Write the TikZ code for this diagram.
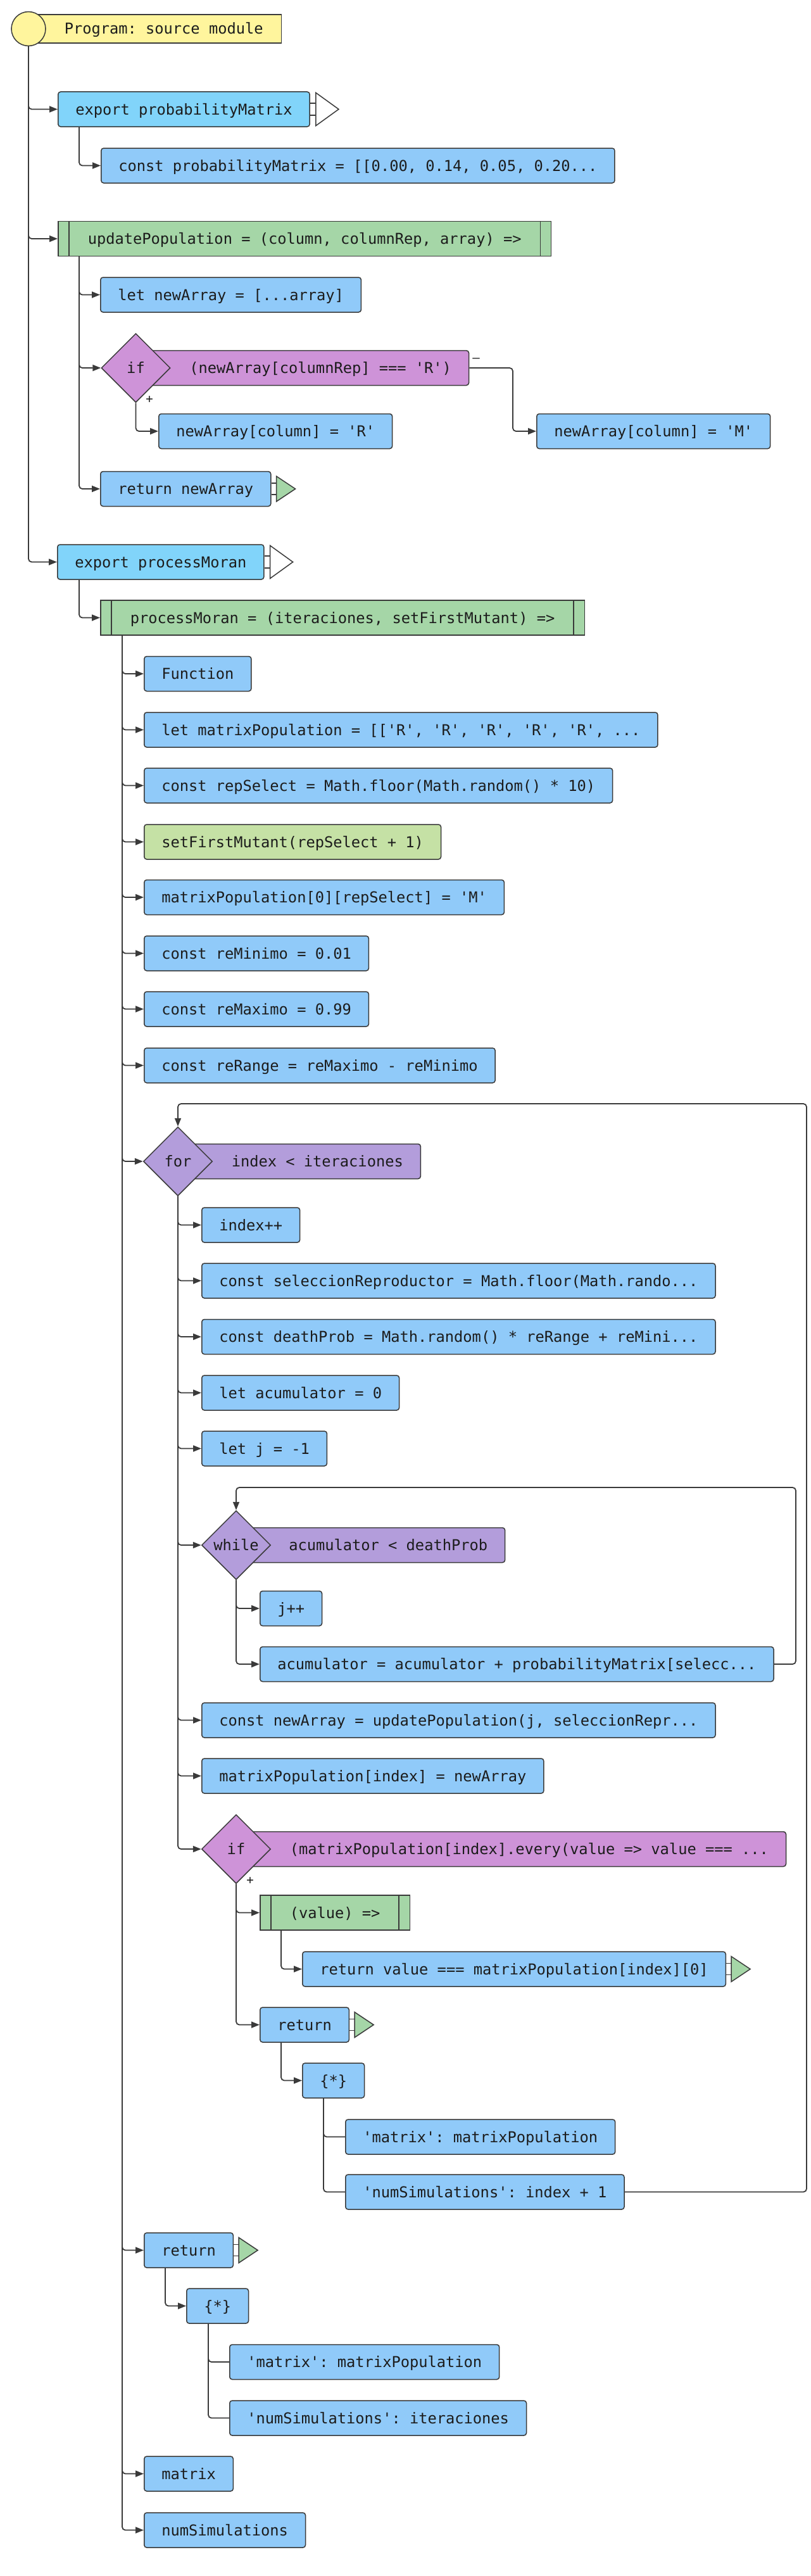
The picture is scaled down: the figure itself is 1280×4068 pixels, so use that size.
\documentclass[tikz,border=0pt]{standalone}
\usepackage{fontspec}
\setmonofont{DejaVu Sans Mono}
\usetikzlibrary{arrows.meta,shapes.geometric,calc}
\definecolor{cYellow}{HTML}{FFF59D}
\definecolor{cExport}{HTML}{81D4FA}
\definecolor{cBlue}{HTML}{90CAF9}
\definecolor{cGreen}{HTML}{A5D6A7}
\definecolor{cLGreen}{HTML}{C5E1A5}
\definecolor{cLoop}{HTML}{B39DDB}
\definecolor{cIf}{HTML}{CE93D8}
\definecolor{cLine}{HTML}{3A3A3A}
\definecolor{cText}{HTML}{1C1C1C}
\tikzset{
  codefont/.style={font=\ttfamily\fontsize{23.7pt}{28pt}\selectfont, text=cText},
  base/.style={codefont, rectangle, draw=cLine, line width=1.5pt, inner xsep=27.5pt, inner ysep=0pt,
    minimum height=55pt, text height=20pt, text depth=3pt, anchor=west},
  stmt/.style={base, rounded corners=4pt, fill=cBlue},
  expo/.style={stmt, fill=cExport},
  func/.style={base, fill=cGreen, inner xsep=47pt},
  call/.style={stmt, fill=cLGreen},
  progbox/.style={base, fill=cYellow, minimum height=45pt, inner xsep=29pt},
  iflbl/.style={stmt, fill=cIf},
  looplbl/.style={stmt, fill=cLoop},
  dia/.style={codefont, diamond, draw=cLine, line width=1.5pt, minimum width=109pt, minimum height=109pt,
    inner sep=0pt, text height=20pt, text depth=3pt},
  ifdia/.style={dia, fill=cIf},
  loopdia/.style={dia, fill=cLoop},
  conn/.style={draw=cLine, line width=1.8pt, rounded corners=5pt, -{Triangle[length=13pt,width=10pt]}},
  plainconn/.style={draw=cLine, line width=1.8pt, rounded corners=5pt},
  edgelbl/.style={font=\ttfamily\fontsize{19pt}{22pt}\selectfont, text=cText, inner sep=0pt},
  deco/.style={draw=cLine, line width=1.5pt}
}
\newcommand{\outtri}[2]{%
  \draw[deco] ($(#1.east)+(0,-9.5)$) -- ++(9,0) ($(#1.east)+(0,9.5)$) -- ++(9,0);
  \draw[deco, fill=#2] ($(#1.east)+(9,-26)$) -- ($(#1.east)+(45,0)$) -- ($(#1.east)+(9,26)$) -- cycle;}
\newcommand{\rettri}[1]{%
  \draw[deco] ($(#1.east)+(0,-9)$) -- ++(8,0) ($(#1.east)+(0,9)$) -- ++(8,0);
  \draw[deco, fill=cGreen] ($(#1.east)+(8,-20)$) -- ($(#1.east)+(38,0)$) -- ($(#1.east)+(8,20)$) -- cycle;}
\newcommand{\fbars}[1]{%
  \draw[deco] ($(#1.north west)+(18,0)$) -- ($(#1.south west)+(18,0)$)
              ($(#1.north east)+(-18,0)$) -- ($(#1.south east)+(-18,0)$);}
\begin{document}
\begin{tikzpicture}[x=1pt,y=-1pt]
\fill[white] (0,0) rectangle (1280,4068);
\useasboundingbox (0,0) rectangle (1280,4068);

% ---- nodes ----
\node[progbox] (prog) at (45,45.5) {\hspace{27pt}Program: source module};
\node[circle, draw=cLine, line width=1.5pt, fill=cYellow, minimum size=54pt, inner sep=0pt] (start) at (45,45.5) {};

\node[expo] (exp1) at (91,172.5) {export probabilityMatrix};
\outtri{exp1}{white}
\node[stmt] (pm) at (159,261.5) {const probabilityMatrix = [[0.00, 0.14, 0.05, 0.20...};

\node[func] (up) at (91,377) {updatePopulation = (column, columnRep, array) =>};
\fbars{up}
\node[stmt] (na) at (158,465.5) {let newArray = [...array]};
\node[iflbl] (if1L) at (234.5,581) {\hspace{36.5pt}(newArray[columnRep] === 'R')};
\node[ifdia] (if1) at (214.5,581) {if};
\node[stmt] (rB) at (250,681) {newArray[column] = 'R'};
\node[stmt] (mB) at (847,681) {newArray[column] = 'M'};
\node[stmt] (retA) at (158,772) {return newArray};
\rettri{retA}
\node[edgelbl] (plus1) at (236,631) {+};
\node[edgelbl] (minus1) at (752,569) {–};

\node[expo] (exp2) at (90,887.5) {export processMoran};
\outtri{exp2}{white}
\node[func] (pmf) at (158,975.5) {processMoran = (iteraciones, setFirstMutant) =>};
\fbars{pmf}
\node[stmt] (fn) at (227,1064) {Function};
\node[stmt] (mp) at (227,1152.5) {let matrixPopulation = [['R', 'R', 'R', 'R', 'R', ...};
\node[stmt] (rs) at (227,1240.5) {const repSelect = Math.floor(Math.random() * 10)};
\node[call] (sfm) at (227,1329.5) {setFirstMutant(repSelect + 1)};
\node[stmt] (mp0) at (227,1417) {matrixPopulation[0][repSelect] = 'M'};
\node[stmt] (rmin) at (227,1505.5) {const reMinimo = 0.01};
\node[stmt] (rmax) at (227,1593.5) {const reMaximo = 0.99};
\node[stmt] (rr) at (227,1682.5) {const reRange = reMaximo - reMinimo};

\node[looplbl] (forL) at (301,1834) {\hspace{36.5pt}index < iteraciones};
\node[loopdia] (forD) at (281,1834) {for};
\node[stmt] (ipp) at (318,1934.5) {index++};
\node[stmt] (sel) at (318,2022.5) {const seleccionReproductor = Math.floor(Math.rando...};
\node[stmt] (dp) at (318,2111) {const deathProb = Math.random() * reRange + reMini...};
\node[stmt] (acc0) at (318,2199.5) {let acumulator = 0};
\node[stmt] (j0) at (318,2287.5) {let j = -1};
\node[looplbl] (whL) at (393,2440) {\hspace{35pt}acumulator < deathProb};
\node[loopdia] (whD) at (373,2440) {while};
\node[stmt] (jpp) at (410,2540) {j++};
\node[stmt] (accU) at (410,2628) {acumulator = acumulator + probabilityMatrix[selecc...};
\node[stmt] (nA) at (318,2716.5) {const newArray = updatePopulation(j, seleccionRepr...};
\node[stmt] (mpi) at (318,2804.5) {matrixPopulation[index] = newArray};
\node[iflbl] (if2L) at (393,2920) {\hspace{36.5pt}(matrixPopulation[index].every(value => value === ...};
\node[ifdia] (if2D) at (373,2920) {if};
\node[edgelbl] (plus2) at (395,2970) {+};
\node[func] (valF) at (410,3020.5) {(value) =>};
\fbars{valF}
\node[stmt] (retV) at (477,3109.5) {return value === matrixPopulation[index][0]};
\rettri{retV}
\node[stmt] (ret1) at (410,3197.5) {return};
\rettri{ret1}
\node[stmt] (obj1) at (477,3285.5) {\{*\}};
\node[stmt] (om1) at (545,3374.5) {'matrix': matrixPopulation};
\node[stmt] (on1) at (545,3461.5) {'numSimulations': index + 1};

\node[stmt] (ret2) at (227,3553.5) {return};
\rettri{ret2}
\node[stmt] (obj2) at (294,3641.5) {\{*\}};
\node[stmt] (om2) at (362,3730) {'matrix': matrixPopulation};
\node[stmt] (on2) at (362,3818.5) {'numSimulations': iteraciones};
\node[stmt] (mat) at (227,3906.5) {matrix};
\node[stmt] (nsm) at (227,3995.5) {numSimulations};

\coordinate (c1) at (810,681);
\coordinate (forC) at (1274,1743);
\coordinate (whC) at (1257,2349);

% ---- connectors ----
\draw[conn] (start.south) |- (exp1.west);
\draw[conn] (start.south) |- (up.west);
\draw[conn] (start.south) |- (exp2.west);

\draw[conn] ([xshift=34pt]exp1.south west) |- (pm.west);

\draw[conn] ([xshift=34pt]up.south west) |- (na.west);
\draw[conn] ([xshift=34pt]up.south west) |- (if1.west);
\draw[conn] ([xshift=34pt]up.south west) |- (retA.west);
\draw[conn] (if1.south) |- (rB.west);
\draw[conn] (if1L.east) -| (c1) -- (mB.west);

\draw[conn] ([xshift=35pt]exp2.south west) |- (pmf.west);

\foreach \n in {fn,mp,rs,sfm,mp0,rmin,rmax,rr,ret2,mat,nsm}
  \draw[conn] ([xshift=35pt]pmf.south west) |- (\n.west);
\draw[conn] ([xshift=35pt]pmf.south west) |- (forD.west);

\foreach \n in {ipp,sel,dp,acc0,j0,nA,mpi}
  \draw[conn] (forD.south) |- (\n.west);
\draw[conn] (forD.south) |- (whD.west);
\draw[conn] (forD.south) |- (if2D.west);

\draw[conn] (whD.south) |- (jpp.west);
\draw[conn] (whD.south) |- (accU.west);
\draw[conn] (accU.east) -| (whC) -| (whD.north);

\draw[conn] (if2D.south) |- (valF.west);
\draw[conn] (if2D.south) |- (ret1.west);
\draw[conn] ([xshift=34pt]valF.south west) |- (retV.west);
\draw[conn] ([xshift=34pt]ret1.south west) |- (obj1.west);
\draw[plainconn] ([xshift=34pt]obj1.south west) |- (om1.west);
\draw[plainconn] ([xshift=34pt]obj1.south west) |- (on1.west);
\draw[conn] (on1.east) -| (forC) -| (forD.north);

\draw[conn] ([xshift=34pt]ret2.south west) |- (obj2.west);
\draw[plainconn] ([xshift=35pt]obj2.south west) |- (om2.west);
\draw[plainconn] ([xshift=35pt]obj2.south west) |- (on2.west);
\end{tikzpicture}
\end{document}
